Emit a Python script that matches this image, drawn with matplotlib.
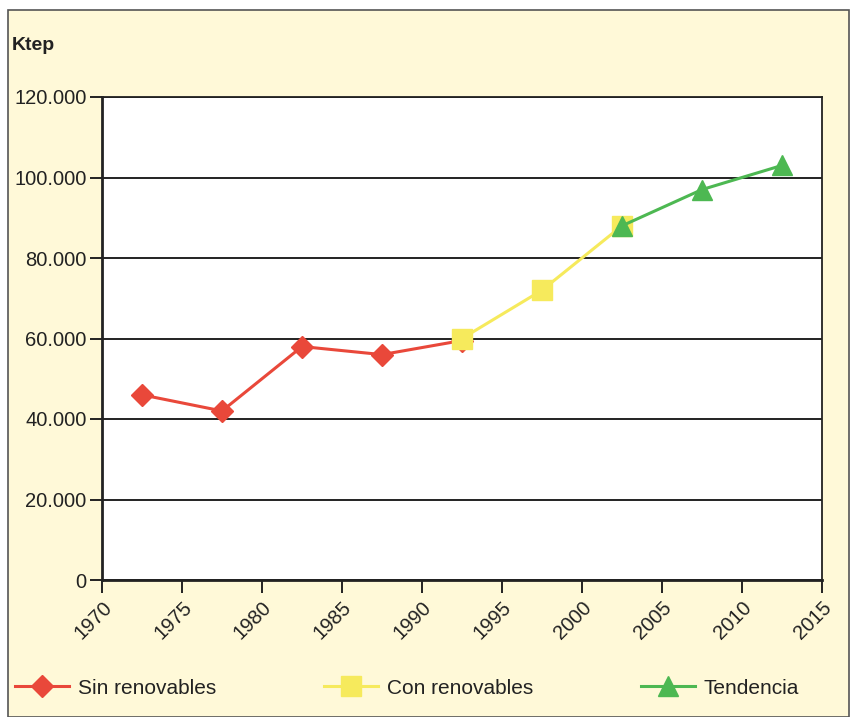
import matplotlib.pyplot as plt
from matplotlib.patches import Rectangle
from matplotlib.ticker import FuncFormatter

plt.rcParams['font.family'] = ['Liberation Sans', 'DejaVu Sans']

# data
years_sin = [1972.5, 1977.5, 1982.5, 1987.5, 1992.5]
sin_renov = [46000, 42000, 58000, 56000, 59500]
years_con = [1992.5, 1997.5, 2002.5]
con_renov = [60000, 72000, 88000]
years_tend = [2002.5, 2007.5, 2012.5]
tendencia = [88000, 97000, 103000]

x_ticks = list(range(1970, 2016, 5))
y_ticks = [0, 20000, 40000, 60000, 80000, 100000, 120000]

RED = '#E9483A'
YELLOW = '#F6EA5C'
GREEN = '#4DB852'
CREAM = '#FFF9D8'

fig = plt.figure(figsize=(8.54, 7.17), dpi=100, facecolor='white')
# cream box with grey border
box = Rectangle((8 / 854, 0), 841 / 854, 707 / 717, transform=fig.transFigure,
                facecolor=CREAM, edgecolor='#555555', linewidth=1.2, zorder=-10)
fig.patches.append(box)

ax = fig.add_axes([102 / 854, 137 / 717, 720 / 854, 483 / 717])
ax.set_facecolor('white')

ax.plot(years_sin, sin_renov, color=RED, lw=2.2, marker='D', ms=11, label='Sin renovables', zorder=3)
ax.plot(years_con, con_renov, color=YELLOW, lw=2.2, marker='s', ms=15, label='Con renovables', zorder=4)
ax.plot(years_tend, tendencia, color=GREEN, lw=2.2, marker='^', ms=15, label='Tendencia', zorder=5)

ax.set_xlim(1970, 2015)
ax.set_ylim(0, 120000)
ax.set_xticks(x_ticks)
ax.set_yticks(y_ticks)
ax.yaxis.set_major_formatter(FuncFormatter(lambda v, p: '0' if v == 0 else f'{int(v):,}'.replace(',', '.')))
ax.grid(axis='y', color='#222222', lw=1.4, zorder=1)
ax.set_axisbelow(True)
for s in ax.spines.values():
    s.set_color('#222222')
    s.set_linewidth(1.3)
ax.spines['left'].set_linewidth(2)
ax.spines['bottom'].set_linewidth(2)

ax.tick_params(axis='both', direction='out', length=9, width=1.4, color='#222222',
               labelsize=14.5, labelcolor='#222222', pad=2)
ax.tick_params(axis='x', pad=4)
for lbl in ax.get_xticklabels():
    lbl.set_rotation(45)
    lbl.set_ha('right')
    lbl.set_rotation_mode('anchor')

fig.text(12 / 854, 1 - 45 / 717, 'Ktep', fontsize=14, fontweight='bold', color='#222222', va='center')

fig.legend(loc='center left', bbox_to_anchor=(15 / 854, 1 - 688 / 717), ncol=3, frameon=False,
           borderpad=0, borderaxespad=0, fontsize=15, handlelength=2.6, columnspacing=5.2,
           handletextpad=0.4, labelcolor='#222222')

fig.savefig('out.png', dpi=100, facecolor=fig.get_facecolor())
